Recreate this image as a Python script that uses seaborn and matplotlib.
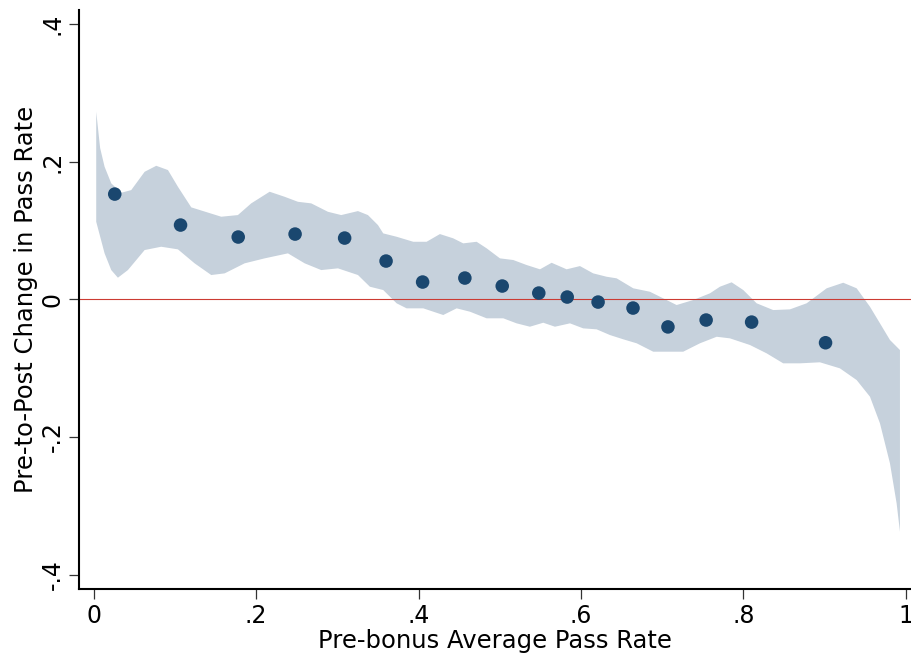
import numpy as np
import pandas as pd
import matplotlib
matplotlib.use("Agg")
import matplotlib.pyplot as plt
import seaborn as sns

# Binned scatter points
pass_rate = [0.026, 0.107, 0.178, 0.248, 0.309, 0.360, 0.405, 0.457, 0.503,
             0.548, 0.583, 0.621, 0.664, 0.707, 0.754, 0.810, 0.901]
change = [0.153, 0.108, 0.0906, 0.0949, 0.0891, 0.0557, 0.0252, 0.031, 0.0194,
          0.0092, 0.0034, -0.0039, -0.0126, -0.040, -0.030, -0.033, -0.063]

# Confidence band: upper boundary
upper_x = [0.0032, 0.0080, 0.0135, 0.0217, 0.0340, 0.0463, 0.0628, 0.0771, 0.0915, 0.1038,
           0.1202, 0.1571, 0.1776, 0.1940, 0.2167, 0.2351, 0.2515, 0.2679, 0.2884,
           0.3048, 0.3254, 0.3377, 0.3500, 0.3565, 0.3730, 0.3935, 0.4099, 0.4263,
           0.4427, 0.4550, 0.4715, 0.4838, 0.5002, 0.5166, 0.5331, 0.5495, 0.5638,
           0.5823, 0.5987, 0.6150, 0.6315, 0.6438, 0.6643, 0.6848, 0.7012, 0.7177,
           0.7382, 0.7587, 0.7710, 0.7854, 0.7997, 0.8162, 0.8366, 0.8572, 0.8777,
           0.9024, 0.9228, 0.9393, 0.9557, 0.9680, 0.9803, 0.9926]
upper_y = [0.2726, 0.2200, 0.1927, 0.1686, 0.1549, 0.1588, 0.1854, 0.1941, 0.1879, 0.1636,
           0.1337, 0.1201, 0.1225, 0.1395, 0.1564, 0.1491, 0.1418, 0.1395, 0.1273,
           0.1225, 0.1283, 0.1225, 0.1080, 0.0959, 0.0910, 0.0837, 0.0837, 0.0949,
           0.0887, 0.0814, 0.0837, 0.0742, 0.0596, 0.0572, 0.0499, 0.0437, 0.0532,
           0.0437, 0.0484, 0.0378, 0.0329, 0.0306, 0.0161, 0.0111, 0.0015, -0.0082,
           -0.0009, 0.0088, 0.0184, 0.0248, 0.0136, -0.0057, -0.0155, -0.0145, -0.0057,
           0.0161, 0.0242, 0.0161, -0.0107, -0.0348, -0.0590, -0.0736]

# Confidence band: lower boundary
lower_x = [0.0032, 0.0135, 0.0217, 0.0299, 0.0422, 0.0628, 0.0832, 0.1038, 0.1243,
           0.1448, 0.1613, 0.1859, 0.2105, 0.2392, 0.2598, 0.2802, 0.3008, 0.3254,
           0.3401, 0.3565, 0.3730, 0.3853, 0.4058, 0.4304, 0.4469, 0.4633, 0.4838,
           0.5043, 0.5207, 0.5371, 0.5535, 0.5679, 0.5864, 0.6027, 0.6192, 0.6356,
           0.6520, 0.6685, 0.6889, 0.7095, 0.7258, 0.7464, 0.7670, 0.7833, 0.8080,
           0.8285, 0.8489, 0.8695, 0.8941, 0.9187, 0.9393, 0.9557, 0.9680, 0.9803,
           0.9885, 0.9926]
lower_y = [0.1128, 0.0669, 0.0426, 0.0315, 0.0426, 0.0717, 0.0765, 0.0727, 0.0524,
           0.0354, 0.0378, 0.0524, 0.0596, 0.0669, 0.0524, 0.0426, 0.0451, 0.0354,
           0.0184, 0.0136, -0.0057, -0.0130, -0.0130, -0.0227, -0.0130, -0.0179, -0.0275,
           -0.0275, -0.0348, -0.0397, -0.0339, -0.0397, -0.0348, -0.0421, -0.0435, -0.0518,
           -0.0580, -0.0638, -0.0760, -0.0760, -0.0760, -0.0638, -0.0543, -0.0566, -0.0663,
           -0.0784, -0.0929, -0.0929, -0.0914, -0.1002, -0.1172, -0.1414, -0.1801, -0.2382,
           -0.2963, -0.3375]

x_ticks = [0, 0.2, 0.4, 0.6, 0.8, 1.0]
x_tick_labels = ["0", ".2", ".4", ".6", ".8", "1"]
y_ticks = [-0.4, -0.2, 0, 0.2, 0.4]
y_tick_labels = ["-.4", "-.2", "0", ".2", ".4"]

sns.set_style("white")
plt.rcParams["font.family"] = ["DejaVu Sans"]
plt.rcParams["text.color"] = "black"
plt.rcParams["axes.labelcolor"] = "black"
plt.rcParams["xtick.color"] = "black"
plt.rcParams["ytick.color"] = "black"

fig = plt.figure(figsize=(9.11, 6.54), dpi=100)
ax = fig.add_axes([79 / 911, 65 / 654, 1 - 79 / 911, (589 - 9.5) / 654])

band_x = np.concatenate([upper_x, lower_x[::-1]])
band_y = np.concatenate([upper_y, lower_y[::-1]])
ax.fill(band_x, band_y, color="#c6d1dc", lw=0, zorder=1, joinstyle="round")

ax.axhline(0, color="#cc3b33", lw=0.8, zorder=2)

df = pd.DataFrame({"x": pass_rate, "y": change})
sns.scatterplot(data=df, x="x", y="y", ax=ax, color="#1a476f", s=95,
                edgecolor="none", zorder=3)

ax.set_xlim(-0.018, 1.0062)
ax.set_ylim(-0.4208, 0.4212)
ax.set_xticks(x_ticks)
ax.set_xticklabels(x_tick_labels)
ax.set_yticks(y_ticks)
ax.set_yticklabels(y_tick_labels, rotation=90, va="center")

for s in ["top", "right"]:
    ax.spines[s].set_visible(False)
for s in ["left", "bottom"]:
    ax.spines[s].set_color("black")
    ax.spines[s].set_linewidth(1.5)

ax.tick_params(axis="both", which="major", direction="out", length=7.5,
               width=0.9, color="#333333", labelcolor="black", labelsize=17,
               pad=3, bottom=True, left=True)

ax.set_xlabel("Pre-bonus Average Pass Rate", fontsize=17.5, labelpad=1)
ax.set_ylabel("Pre-to-Post Change in Pass Rate", fontsize=17.5, labelpad=2)

fig.savefig("out.png", dpi=100)
